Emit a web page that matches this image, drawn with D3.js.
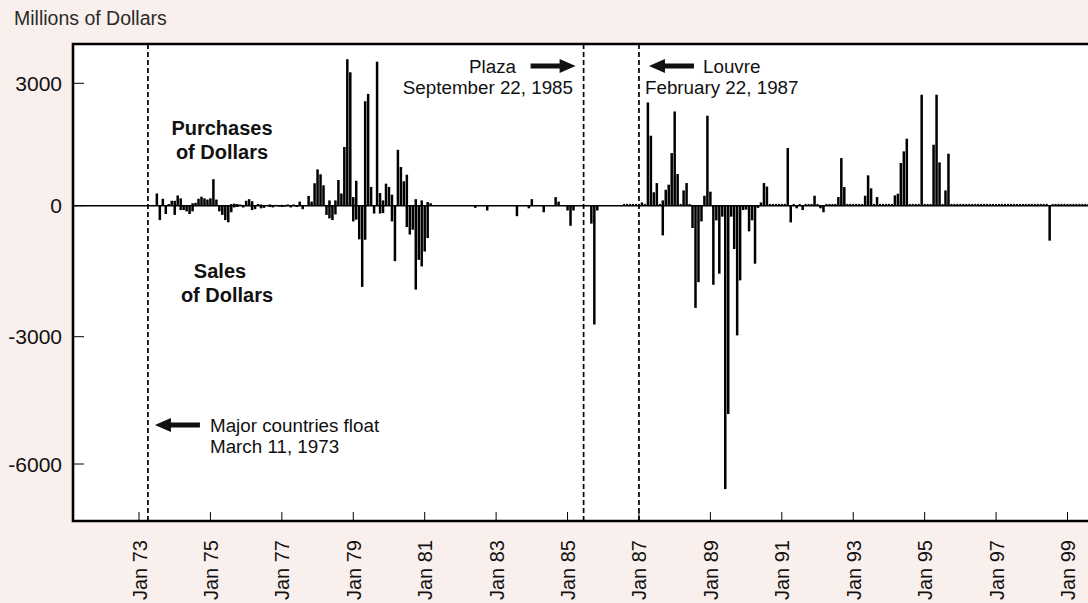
<!DOCTYPE html>
<html>
<head>
<meta charset="utf-8">
<script src="https://cdn.jsdelivr.net/npm/d3@7"></script>
<style>
  html, body { margin: 0; padding: 0; background: #f9efec; }
  svg { display: block; font-family: "Liberation Sans", Arial, Helvetica, sans-serif; }
</style>
</head>
<body>
<svg id="chart" width="1088" height="603"></svg>
<script>
// US intervention, millions of dollars, one value per month, Jan 1973 .. Dec 1999
const firstYear = 1973;
const purchases = [
  0,0,0,0,0,0,300,0,170,0,40,120,            // 73
  120,250,180,0,0,0,60,70,170,220,180,150,   // 74
  180,650,150,0,0,0,0,40,50,40,30,0,         // 75
  120,160,110,0,40,30,0,20,30,0,20,0,        // 76
  20,0,30,0,30,0,100,0,0,240,100,550,        // 77
  890,770,500,0,130,0,130,630,300,1440,3590,3270, // 78
  210,610,0,0,2560,2740,460,0,3530,310,130,540,   // 79
  460,270,0,1370,950,600,760,0,0,160,0,130,  // 80
  0,90,60,0,0,0,0,0,0,0,0,0,                 // 81
  0,0,0,0,0,0,0,0,0,0,0,0,                   // 82
  0,0,0,0,0,0,0,0,0,0,0,0,                   // 83
  160,0,0,0,0,0,0,0,210,100,0,0,             // 84
  0,0,0,0,0,0,0,0,0,0,0,0,                   // 85
  0,0,0,0,0,0,0,0,0,0,0,0,                   // 86
  0,80,0,2530,1715,330,555,0,130,390,515,1290,    // 87
  2310,776,0,375,555,0,0,0,0,0,245,2205,     // 88
  343,0,0,0,0,0,0,0,0,0,0,0,                 // 89
  0,0,0,0,0,80,555,470,0,0,0,0,              // 90
  0,0,1413,0,0,0,0,0,0,0,0,245,              // 91
  0,0,0,0,0,0,0,212,1168,457,0,0,            // 92
  0,0,0,0,245,743,425,0,212,0,0,0,           // 93
  0,0,253,294,1046,1332,1642,0,0,0,0,2720,   // 94
  0,0,0,1495,2720,1062,0,375,1275,0,0,0,     // 95
  0,0,0,0,0,0,0,0,0,0,0,0,                   // 96
  0,0,0,0,0,0,0,0,0,0,0,0,                   // 97
  0,0,0,0,0,0,0,0,0,0,0,0,                   // 98
  0,0,0,0,0,0,0,0,0,0,0,0                    // 99
];
const sales = [
  0,0,0,0,0,0,0,-330,0,-190,0,0,                        // 73
  -210,0,-100,-100,-130,-190,-130,0,0,0,0,0,            // 74
  0,0,0,-130,-210,-330,-380,-150,-40,-30,0,-40,         // 75
  0,0,-100,-80,0,-60,-50,0,-30,-40,0,-20,               // 76
  -30,-20,0,-40,0,-30,0,-80,0,0,0,0,                    // 77
  0,0,0,-210,-290,-330,-200,0,0,0,0,0,                  // 78
  -360,-320,-770,-1860,-780,0,0,-180,0,-180,-170,0,     // 79
  0,-360,-1270,0,0,0,-490,-660,-550,-1920,-1240,-1390,  // 80
  -1050,-740,0,0,0,0,0,0,0,0,0,0,                       // 81
  0,0,0,0,0,-50,0,0,0,-110,0,0,                         // 82
  0,0,0,0,0,0,0,-240,0,0,0,-60,                         // 83
  0,0,0,0,-150,0,0,0,0,0,0,0,                           // 84
  -110,-460,-110,0,0,0,0,0,-410,-2720,-110,0,           // 85
  0,0,0,0,0,0,0,0,0,0,0,0,                              // 86
  0,0,0,0,0,0,0,0,-680,0,0,0,                           // 87
  0,0,0,0,0,0,-511,-2340,-1750,-360,0,0,                // 88
  0,-1810,-336,-1557,-250,-6590,-4822,-250,-992,-2970,-1710,-100, // 89
  -90,-588,-336,-1328,-50,0,0,0,0,0,0,0,                // 90
  0,0,0,-382,0,-60,0,-100,0,0,0,0,                      // 91
  0,-60,-150,0,0,0,0,0,0,0,0,0,                         // 92
  0,0,0,0,0,0,0,0,0,0,0,0,                              // 93
  0,0,0,0,0,0,0,0,0,0,0,0,                              // 94
  0,0,0,0,0,0,0,0,0,0,0,0,                              // 95
  0,0,0,0,0,0,0,0,0,0,0,0,                              // 96
  0,0,0,0,0,0,0,0,0,0,0,0,                              // 97
  0,0,0,0,0,0,-800,0,0,0,0,0,                           // 98
  0,0,0,0,0,0,0,0,0,0,0,0                               // 99
];
// months from here on are reported every month (tiny marks on the zero line)
const reportedFrom = 1986 + 7 / 12;

const tickYears = [1973, 1975, 1977, 1979, 1981, 1983, 1985, 1987, 1989, 1991, 1993, 1995, 1997, 1999];
const tickLabels = ["Jan 73", "Jan 75", "Jan 77", "Jan 79", "Jan 81", "Jan 83", "Jan 85",
                    "Jan 87", "Jan 89", "Jan 91", "Jan 93", "Jan 95", "Jan 97", "Jan 99"];
const yTicks = [3000, 0, -3000, -6000];
// event lines, placed where the picture draws them
const eventAt = [1973.25, 1985.45, 1987.0];

const svg = d3.select("#chart");
const W = 1088, H = 603;
const frame = { left: 73, top: 44, bottom: 521, right: 1100 };

const x = d3.scaleLinear().domain([1973, 1999]).range([139, 1067.5]);
// the source's own axis is drawn slightly unevenly; follow its tick positions
const y = d3.scaleLinear()
  .domain([-6000, -3000, 0, 3000])
  .range([464, 336.7, 205.7, 83.3]);

const months = purchases.map((p, i) => ({
  t: firstYear + Math.floor(i / 12) + (i % 12) / 12,
  p: p,
  s: sales[i]
}));

// plot area
svg.append("rect")
  .attr("x", frame.left).attr("y", frame.top)
  .attr("width", frame.right - frame.left).attr("height", frame.bottom - frame.top)
  .attr("fill", "#fff");

const barW = 2.5;
const g = svg.append("g");

// purchases
g.selectAll("rect.p")
  .data(months.filter(d => d.p > 0))
  .enter().append("rect")
  .attr("class", "p")
  .attr("x", d => x(d.t) - barW / 2)
  .attr("y", d => y(d.p))
  .attr("width", barW)
  .attr("height", d => y(0) - y(d.p))
  .attr("fill", "#000");

// sales
g.selectAll("rect.s")
  .data(months.filter(d => d.s < 0))
  .enter().append("rect")
  .attr("class", "s")
  .attr("x", d => x(d.t) - barW / 2)
  .attr("y", y(0))
  .attr("width", barW)
  .attr("height", d => y(d.s) - y(0))
  .attr("fill", "#000");

// zero months after reporting started
g.selectAll("rect.z")
  .data(months.filter(d => d.t >= reportedFrom && d.p === 0 && d.s === 0))
  .enter().append("rect")
  .attr("class", "z")
  .attr("x", d => x(d.t) - 1)
  .attr("y", y(0) - 1.8)
  .attr("width", 2)
  .attr("height", 1.8)
  .attr("fill", "#000");

// zero line
svg.append("line")
  .attr("x1", frame.left).attr("x2", W)
  .attr("y1", y(0)).attr("y2", y(0))
  .attr("stroke", "#000").attr("stroke-width", 1.4);

// event lines
svg.selectAll("line.event")
  .data(eventAt)
  .enter().append("line")
  .attr("class", "event")
  .attr("x1", d => x(d)).attr("x2", d => x(d))
  .attr("y1", frame.top).attr("y2", frame.bottom)
  .attr("stroke", "#000")
  .attr("stroke-width", 1.7)
  .attr("stroke-dasharray", "5,3");

// y ticks
svg.selectAll("line.ytick")
  .data(yTicks)
  .enter().append("line")
  .attr("x1", frame.left).attr("x2", frame.left + 11)
  .attr("y1", d => y(d)).attr("y2", d => y(d))
  .attr("stroke", "#000").attr("stroke-width", 1);

svg.selectAll("text.ylab")
  .data(yTicks)
  .enter().append("text")
  .attr("x", 62)
  .attr("y", d => y(d))
  .attr("dy", "0.36em")
  .attr("text-anchor", "end")
  .style("font-size", "21px")
  .attr("fill", "#111")
  .text(d => d);

// x ticks
svg.selectAll("line.xtick")
  .data(tickYears)
  .enter().append("line")
  .attr("x1", d => x(d)).attr("x2", d => x(d))
  .attr("y1", frame.bottom).attr("y2", frame.bottom - 9)
  .attr("stroke", "#000").attr("stroke-width", 1);

svg.selectAll("text.xlab")
  .data(tickYears)
  .enter().append("text")
  .attr("transform", d => "translate(" + (x(d) + 7.5) + ",540) rotate(-90)")
  .attr("text-anchor", "end")
  .style("font-size", "20px")
  .attr("fill", "#111")
  .text((d, i) => tickLabels[i]);

// frame
svg.append("path")
  .attr("d", "M" + frame.right + "," + frame.top + "H" + frame.left + "V" + frame.bottom + "H" + frame.right)
  .attr("fill", "none")
  .attr("stroke", "#000")
  .attr("stroke-width", 2.6);

// unit label
svg.append("text")
  .attr("x", 14).attr("y", 25)
  .style("font-size", "19.5px")
  .attr("fill", "#2b2b2b")
  .text("Millions of Dollars");

// bold side labels
const side = [
  { t: "Purchases", x: 222, y: 135 },
  { t: "of Dollars", x: 222, y: 159 },
  { t: "Sales", x: 220, y: 278 },
  { t: "of Dollars", x: 227, y: 302 }
];
svg.selectAll("text.side")
  .data(side)
  .enter().append("text")
  .attr("x", d => d.x).attr("y", d => d.y)
  .attr("text-anchor", "middle")
  .style("font-size", "20px")
  .style("font-weight", "bold")
  .attr("fill", "#111")
  .text(d => d.t);

// arrows: dir -1 points left, +1 points right; hx = head tip
function arrow(hx, cy, dir) {
  const L = 45, hl = 16, hh = 7, sh = 2.6;
  const p = [
    [hx, cy],
    [hx - dir * hl, cy - hh],
    [hx - dir * hl, cy - sh],
    [hx - dir * L, cy - sh],
    [hx - dir * L, cy + sh],
    [hx - dir * hl, cy + sh],
    [hx - dir * hl, cy + hh]
  ];
  svg.append("path")
    .attr("d", "M" + p.map(q => q.join(",")).join("L") + "Z")
    .attr("fill", "#111");
}

function note(tx, ty, txt, anchor) {
  svg.append("text")
    .attr("x", tx).attr("y", ty)
    .attr("text-anchor", anchor || "start")
    .style("font-size", "18.8px")
    .attr("fill", "#111")
    .text(txt);
}

arrow(x(eventAt[0]) + 7, 425, -1);
note(210, 432, "Major countries float");
note(210, 453, "March 11, 1973");

arrow(x(eventAt[1]) - 8, 66, 1);
note(469, 73, "Plaza");
note(573, 94, "September 22, 1985", "end");

arrow(x(eventAt[2]) + 10, 66, -1);
note(703, 73, "Louvre");
note(645, 94, "February 22, 1987");
</script>
</body>
</html>
